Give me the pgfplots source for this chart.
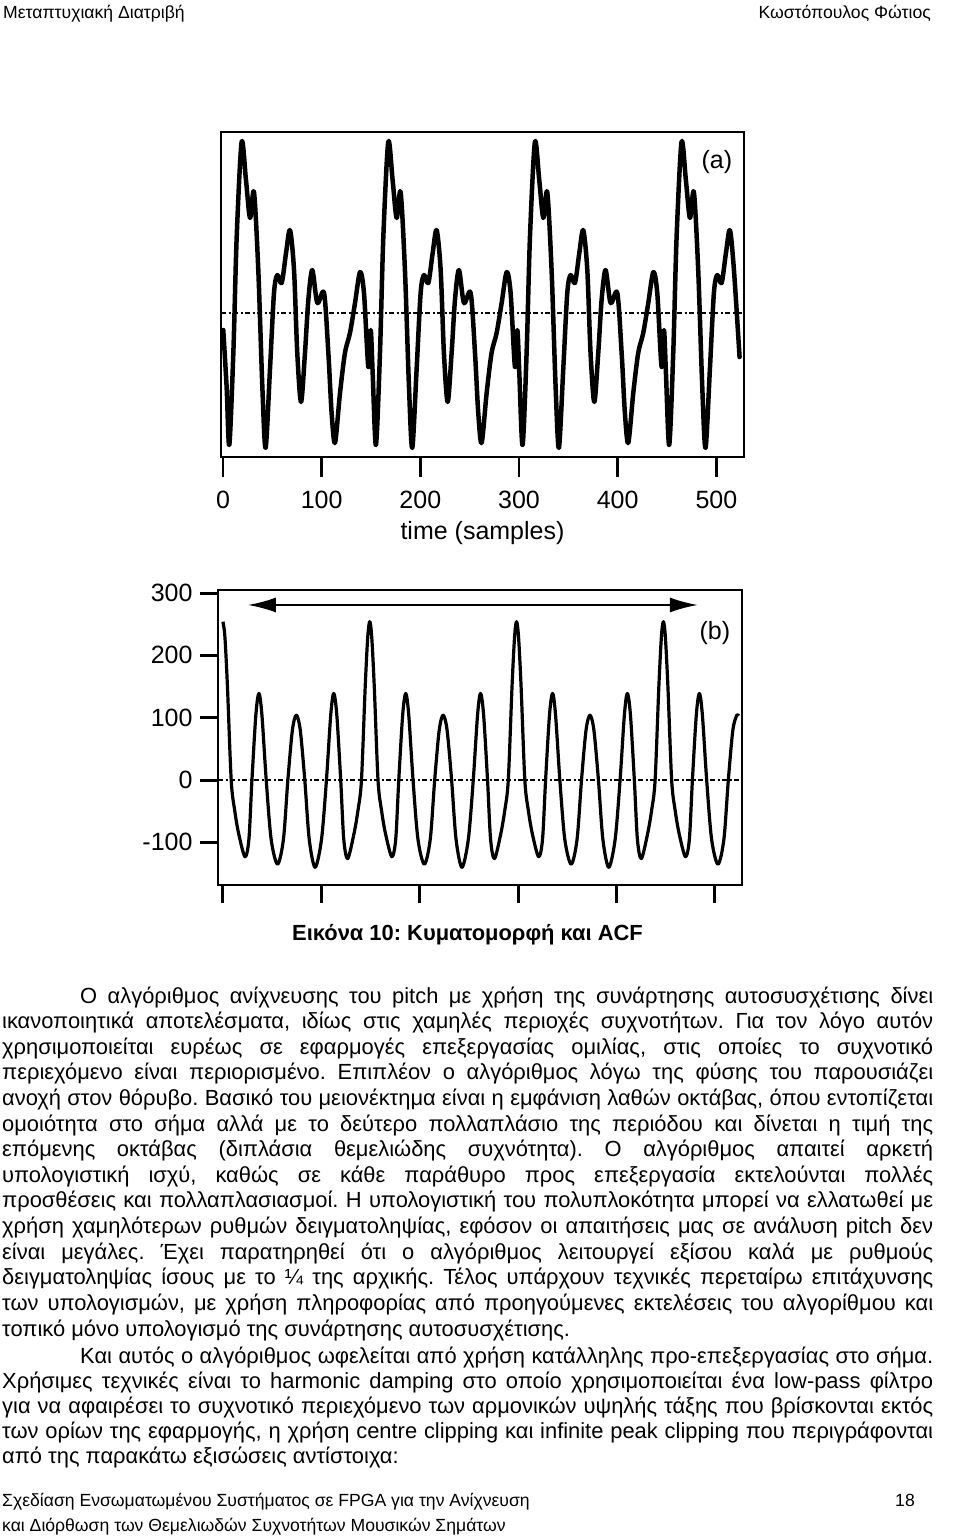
\documentclass[border=0pt]{standalone}
\usepackage{fontspec}
\setmainfont{Liberation Sans}
\usepackage{pgfplots}
\pgfplotsset{compat=1.18}
\usetikzlibrary{arrows.meta}
\frenchspacing
\newcommand{\body}{\fontsize{21.9}{25.6}\selectfont}
\newcommand{\ticfont}{\fontsize{25}{25}\selectfont}
\newcommand{\smallf}{\fontsize{17.6}{20}\selectfont}
% justified line: x, baseline y, text
\newcommand{\jl}[3]{\node[anchor=base west,inner sep=0pt] at (#1pt,-#2pt) {\body\makebox[\dimexpr933pt-#1pt\relax][s]{#3}};}
\newcommand{\lline}[3]{\node[anchor=base west,inner sep=0pt] at (#1pt,-#2pt) {\body #3};}
\begin{document}
\begin{tikzpicture}
\fill[white] (0pt,0pt) rectangle (960pt,-1537pt);
\path[use as bounding box] (0pt,0pt) rectangle (960pt,-1537pt);

% header
\node[anchor=base west,inner sep=0pt] at (3pt,-18pt) {\smallf Μεταπτυχιακή Διατριβή};
\node[anchor=base east,inner sep=0pt] at (931pt,-18pt) {\smallf Κωστόπουλος Φώτιος};

% ---------- plot (a)
\begin{axis}[at={(221pt,-457pt)}, anchor=south west, scale only axis,
  width=523pt, height=325pt,
  xmin=-2, xmax=528, ymin=-144, ymax=181,
  axis line style={line width=2pt},
  xtick={0,100,200,300,400,500}, xticklabels={0,100,200,300,400,500},
  ytick=\empty, xtick pos=left, tick align=outside,
  major tick length=20pt, tick style={line width=2.5pt,black},
  xticklabel style={font=\ticfont, yshift=-11pt},
  xlabel={time (samples)},
  xlabel style={font=\ticfont, at={(axis description cs:0.5,-0.255)}, anchor=base},
]
\addplot[line width=2pt, dash pattern=on 5pt off 2.5pt on 2pt off 2.5pt] coordinates {(-2,0) (528,0)};
\addplot[line width=4.5pt, smooth, tension=0.5, line join=round, line cap=round] table {
x y
0.3 -17
3.7 -74
6.4 -132
10.5 -40
13.9 76
18.9 171
23.3 133
27.4 95
31.4 121
35.8 43
39.9 -74
43.2 -135
47.6 -57
51.7 20
55.1 38
59.5 30
63.9 60
67.9 83
72.0 43
75.3 -40
79.1 -89
83.1 -40
86.5 13
90.5 43
95.6 10
102.4 20
106.8 -40
110.1 -100
113.5 -130
118.6 -80
123.6 -40
128.7 -20
133.8 10
138.9 41
142.9 20
147.3 -54
149.7 -17
151.7 -60
155.0 -132
159.1 -40
162.5 76
167.5 171
171.9 133
176.0 95
180.0 121
184.4 43
188.5 -74
191.8 -135
196.2 -57
200.3 20
203.7 38
208.1 30
212.5 60
216.5 83
220.6 43
223.9 -40
227.7 -89
231.7 -40
235.1 13
239.1 43
244.2 10
251.0 20
255.4 -40
258.7 -100
262.1 -130
267.2 -80
272.2 -40
277.3 -20
282.4 10
287.5 41
291.5 20
295.9 -54
298.3 -17
300.3 -60
303.6 -132
307.7 -40
311.1 76
316.1 171
320.5 133
324.6 95
328.6 121
333.0 43
337.1 -74
340.4 -135
344.8 -57
348.9 20
352.3 38
356.7 30
361.1 60
365.1 83
369.2 43
372.5 -40
376.3 -89
380.3 -40
383.7 13
387.7 43
392.8 10
399.6 20
404.0 -40
407.3 -100
410.7 -130
415.8 -80
420.8 -40
425.9 -20
431.0 10
436.1 41
440.1 20
444.5 -54
446.9 -17
448.9 -60
452.2 -132
456.3 -40
459.7 76
464.7 171
469.1 133
473.2 95
477.2 121
481.6 43
485.7 -74
489.0 -135
493.4 -57
497.5 20
500.9 38
505.3 30
509.7 60
513.7 83
517.8 43
523.5 -44
};
\node[font=\ticfont] at (axis cs:500.5,151) {(a)};
\end{axis}

% ---------- plot (b)
\begin{axis}[at={(218pt,-885pt)}, anchor=south west, scale only axis,
  width=524pt, height=295pt,
  xmin=-5, xmax=527.5, ymin=-168.4, ymax=304.8,
  axis line style={line width=2pt},
  xtick={0,100,200,300,400,500}, xticklabels={},
  ytick={-100,0,100,200,300}, yticklabels={-100,0,100,200,300},
  xtick pos=left, ytick pos=left, tick align=outside,
  major tick length=18pt, tick style={line width=3pt,black},
  yticklabel style={font=\ticfont, xshift=-4pt},
]
\addplot[line width=2pt, dash pattern=on 5pt off 2.5pt on 2pt off 2.5pt] coordinates {(-5,0) (527.5,0)};
\addplot[line width=3.2pt, smooth, tension=0.5, line join=round] table {
x y
0 254
2.0 230
4.6 150
8.4 0
11.9 -48
16.0 -86
22.4 -123
26.4 -95
29.5 0
33.5 105
36.6 139
39.6 105
44.0 0
49.0 -95
55.5 -135
61.5 -95
66.0 0
70.6 80
74.6 104
78.6 80
83.2 0
87.7 -95
93.7 -140
100.2 -95
105.2 0
109.6 105
112.6 139
115.7 105
119.7 0
122.8 -95
126.8 -126
133.2 -86
137.3 -48
140.8 0
144.6 150
147.2 230
149.2 254
151.2 230
153.8 150
157.6 0
161.1 -48
165.2 -86
171.6 -123
175.6 -95
178.7 0
182.7 105
185.8 139
188.8 105
193.2 0
198.2 -95
204.7 -135
210.7 -95
215.2 0
219.8 80
223.8 104
227.8 80
232.4 0
236.9 -95
242.9 -140
249.4 -95
254.4 0
258.8 105
261.8 139
264.9 105
268.9 0
272.0 -95
276.0 -126
282.4 -86
286.5 -48
290.0 0
293.8 150
296.4 230
298.4 254
300.4 230
303.0 150
306.8 0
310.3 -48
314.4 -86
320.8 -123
324.8 -95
327.9 0
331.9 105
335.0 139
338.0 105
342.4 0
347.4 -95
353.9 -135
359.9 -95
364.4 0
369.0 80
373.0 104
377.0 80
381.6 0
386.1 -95
392.1 -140
398.6 -95
403.6 0
408.0 105
411.0 139
414.1 105
418.1 0
421.2 -95
425.2 -126
431.6 -86
435.7 -48
439.2 0
443.0 150
445.6 230
447.6 254
449.6 230
452.2 150
456.0 0
459.5 -48
463.6 -86
470.0 -123
474.0 -95
477.1 0
481.1 105
484.2 139
487.2 105
491.6 0
496.6 -95
503.1 -135
509.1 -95
513.6 0
518.2 80
522.2 104
524.0 103
};
\draw[{Latex[length=28pt,width=15pt]}-{Latex[length=28pt,width=15pt]}, line width=2pt] (axis cs:25.4,280.8) -- (axis cs:482.7,280.8);
\node[font=\ticfont] at (axis cs:500,236) {(b)};
\end{axis}

% caption
\node[anchor=base west,inner sep=0pt] at (292pt,-940pt) {\body\bfseries Εικόνα 10: Κυματομορφή και ACF};

% body text
\jl{80}{1003}{Ο αλγόριθμος ανίχνευσης του pitch με χρήση της συνάρτησης αυτοσυσχέτισης δίνει}
\jl{2}{1028.6}{ικανοποιητικά αποτελέσματα, ιδίως στις χαμηλές περιοχές συχνοτήτων. Για τον λόγο αυτόν}
\jl{2}{1054.2}{χρησιμοποιείται ευρέως σε εφαρμογές επεξεργασίας ομιλίας, στις οποίες το συχνοτικό}
\jl{2}{1079.8}{περιεχόμενο είναι περιορισμένο. Επιπλέον ο αλγόριθμος λόγω της φύσης του παρουσιάζει}
\jl{2}{1105.4}{ανοχή στον θόρυβο. Βασικό του μειονέκτημα είναι η εμφάνιση λαθών οκτάβας, όπου εντοπίζεται}
\jl{2}{1131.0}{ομοιότητα στο σήμα αλλά με το δεύτερο πολλαπλάσιο της περιόδου και δίνεται η τιμή της}
\jl{2}{1156.6}{επόμενης οκτάβας (διπλάσια θεμελιώδης συχνότητα). Ο αλγόριθμος απαιτεί αρκετή}
\jl{2}{1182.2}{υπολογιστική ισχύ, καθώς σε κάθε παράθυρο προς επεξεργασία εκτελούνται πολλές}
\jl{2}{1207.8}{προσθέσεις και πολλαπλασιασμοί. Η υπολογιστική του πολυπλοκότητα μπορεί να ελλατωθεί με}
\jl{2}{1233.4}{χρήση χαμηλότερων ρυθμών δειγματοληψίας, εφόσον οι απαιτήσεις μας σε ανάλυση pitch δεν}
\jl{2}{1259.0}{είναι μεγάλες. Έχει παρατηρηθεί ότι ο αλγόριθμος λειτουργεί εξίσου καλά με ρυθμούς}
\jl{2}{1284.6}{δειγματοληψίας ίσους με το ¼ της αρχικής. Τέλος υπάρχουν τεχνικές περεταίρω επιτάχυνσης}
\jl{2}{1310.2}{των υπολογισμών, με χρήση πληροφορίας από προηγούμενες εκτελέσεις του αλγορίθμου και}
\lline{2}{1336.5}{τοπικό μόνο υπολογισμό της συνάρτησης αυτοσυσχέτισης.}
\jl{80}{1363}{Και αυτός ο αλγόριθμος ωφελείται από χρήση κατάλληλης προ-επεξεργασίας στο σήμα.}
\jl{2}{1388.2}{Χρήσιμες τεχνικές είναι το harmonic damping στο οποίο χρησιμοποιείται ένα low-pass φίλτρο}
\jl{2}{1413.4}{για να αφαιρέσει το συχνοτικό περιεχόμενο των αρμονικών υψηλής τάξης που βρίσκονται εκτός}
\jl{2}{1438.6}{των ορίων της εφαρμογής, η χρήση centre clipping και infinite peak clipping που περιγράφονται}
\lline{2}{1463.8}{από της παρακάτω εξισώσεις αντίστοιχα:}

% footer
\node[anchor=base west,inner sep=0pt] at (2pt,-1506.7pt) {\smallf Σχεδίαση Ενσωματωμένου Συστήματος σε FPGA για την Ανίχνευση};
\node[anchor=base east,inner sep=0pt] at (915pt,-1506.7pt) {\smallf 18};
\node[anchor=base west,inner sep=0pt] at (2pt,-1531.7pt) {\smallf και Διόρθωση των Θεμελιωδών Συχνοτήτων Μουσικών Σημάτων};
\end{tikzpicture}
\end{document}
